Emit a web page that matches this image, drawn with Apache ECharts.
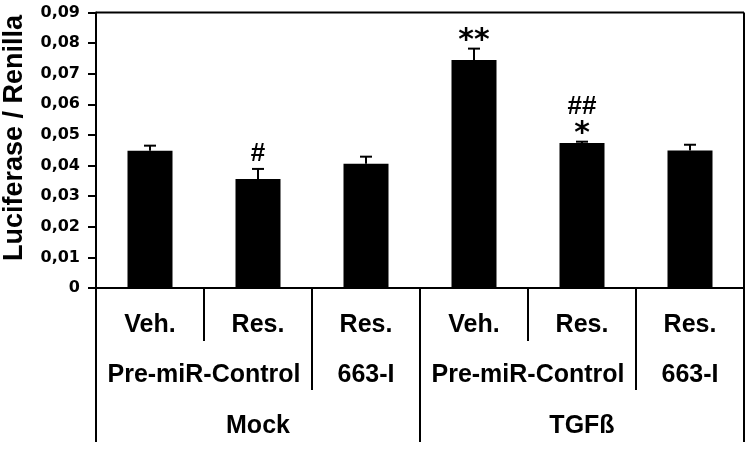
<!DOCTYPE html>
<html>
<head>
<meta charset="utf-8">
<script src="https://cdn.jsdelivr.net/npm/echarts@6/dist/echarts.min.js"></script>
<style>
  html, body { margin: 0; padding: 0; background: #fff; }
  #main { width: 750px; height: 449px; }
</style>
</head>
<body>
<div id="main"></div>
<script>
// 数据
var categories = ['Mock Veh.', 'Mock Res.', 'Mock 663-I Res.', 'TGFß Veh.', 'TGFß Res.', 'TGFß 663-I Res.']
var treatLabels = ['Veh.', 'Res.', 'Res.', 'Veh.', 'Res.', 'Res.']
var values = [0.0448, 0.0356, 0.0406, 0.0745, 0.0474, 0.0449]
var errors = [0.0017, 0.0033, 0.0023, 0.0037, 0.0004, 0.0019]
var starMarks = ['', '', '', '**', '*', '']
var hashMarks = ['', '#', '', '', '##', '']
var constructLabels = ['Pre-miR-Control', '663-I', 'Pre-miR-Control', '663-I']
var constructSpans = [[0, 1], [2, 2], [3, 4], [5, 5]]
var groupLabels = ['Mock', 'TGFß']
var groupSpans = [[0, 2], [3, 5]]
var yTitle = 'Luciferase / Renilla'
// 类别之间分隔线的层级 (1: Veh/Res, 2: 构建, 3: 分组)
var boundaryLevel = [1, 2, 3, 1, 2]

var labelFont = 'Liberation Sans, Arial, sans-serif'

var myChart = echarts.init(document.getElementById('main'))

function tickFmt (v) {
  if (v === 0) return '0'
  return v.toFixed(2).replace('.', ',')
}

// 误差线
function renderErr (params, api) {
  var i = params.dataIndex
  var base = api.coord([i, values[i]])
  var top = api.coord([i, values[i] + errors[i]])
  var half = 6
  return {
    type: 'group',
    children: [
      { type: 'line', shape: { x1: base[0], y1: base[1], x2: top[0], y2: top[1] }, style: { stroke: '#000', lineWidth: 2 } },
      { type: 'line', shape: { x1: top[0] - half, y1: top[1], x2: top[0] + half, y2: top[1] }, style: { stroke: '#000', lineWidth: 2 } }
    ]
  }
}

// 显著性标记
function renderMarks (params, api) {
  var i = params.dataIndex
  var top = api.coord([i, values[i] + errors[i]])
  var children = []
  var y = top[1]
  if (starMarks[i]) {
    children.push({
      type: 'text',
      style: { text: starMarks[i], x: top[0], y: y + 8, align: 'center', verticalAlign: 'bottom', font: 'bold 30px DejaVu Sans', fill: '#000' }
    })
    y -= 20
  }
  if (hashMarks[i]) {
    children.push({
      type: 'text',
      style: { text: hashMarks[i], x: top[0], y: y - 2, align: 'center', verticalAlign: 'bottom', font: 'bold 26px ' + labelFont, fill: '#000' }
    })
  }
  return { type: 'group', children: children }
}

var option = {
  animation: false,
  grid: { left: 96, top: 12.5, width: 648, height: 275.5, containLabel: false, outerBoundsMode: 'none' },
  xAxis: {
    type: 'category',
    data: categories,
    axisLine: { lineStyle: { color: '#000', width: 2 } },
    axisTick: { show: false },
    axisLabel: { show: false },
    splitLine: { show: false }
  },
  yAxis: {
    type: 'value',
    min: 0,
    max: 0.09,
    interval: 0.01,
    axisLine: { show: true, lineStyle: { color: '#000', width: 2 } },
    axisTick: { show: true, inside: false, length: 8, lineStyle: { color: '#000', width: 2 } },
    axisLabel: { formatter: tickFmt, margin: 16, fontFamily: 'DejaVu Sans', fontWeight: 'bold', fontSize: 16, color: '#000' },
    splitLine: { show: false }
  },
  series: [
    {
      type: 'bar',
      data: values,
      barWidth: 45,
      itemStyle: { color: '#000' }
    },
    {
      type: 'custom',
      renderItem: renderErr,
      data: values.map(function (v, i) { return [i, v] }),
      z: 3
    },
    {
      type: 'custom',
      renderItem: renderMarks,
      data: values.map(function (v, i) { return [i, v] }),
      z: 4
    }
  ]
}

myChart.setOption(option)

// 下方分层类别标签与分隔线
function buildGraphic () {
  var xs = categories.map(function (c, i) { return myChart.convertToPixel({ xAxisIndex: 0 }, i) })
  var band = xs[1] - xs[0]
  var y0 = myChart.convertToPixel({ yAxisIndex: 0 }, 0)
  var yTop = myChart.convertToPixel({ yAxisIndex: 0 }, 0.09)
  var left = xs[0] - band / 2
  var right = xs[xs.length - 1] + band / 2
  var depth = [y0 + 53, y0 + 102, y0 + 154]
  var rows = [y0 + 37, y0 + 87, y0 + 138]
  var els = []
  var ls = { stroke: '#000', lineWidth: 2 }

  // 外框
  els.push({ type: 'line', shape: { x1: left, y1: yTop, x2: right, y2: yTop }, style: ls })
  els.push({ type: 'line', shape: { x1: right, y1: yTop, x2: right, y2: depth[2] }, style: ls })
  els.push({ type: 'line', shape: { x1: left, y1: y0, x2: left, y2: depth[2] }, style: ls })
  boundaryLevel.forEach(function (lv, i) {
    var bx = (xs[i] + xs[i + 1]) / 2
    els.push({ type: 'line', shape: { x1: bx, y1: y0, x2: bx, y2: depth[lv - 1] }, style: ls })
  })

  // y 轴标题
  els.push({
    type: 'text',
    x: 15, y: 138, rotation: Math.PI / 2,
    style: { text: yTitle, x: 0, y: 0, align: 'center', verticalAlign: 'middle', font: 'bold 27px ' + labelFont, fill: '#000' }
  })

  var tf = 'bold 25px ' + labelFont
  treatLabels.forEach(function (t, i) {
    els.push({ type: 'text', style: { text: t, x: xs[i], y: rows[0], align: 'center', verticalAlign: 'middle', font: tf, fill: '#000' } })
  })
  constructLabels.forEach(function (t, k) {
    var s = constructSpans[k]
    els.push({ type: 'text', style: { text: t, x: (xs[s[0]] + xs[s[1]]) / 2, y: rows[1], align: 'center', verticalAlign: 'middle', font: tf, fill: '#000' } })
  })
  groupLabels.forEach(function (t, k) {
    var s = groupSpans[k]
    els.push({ type: 'text', style: { text: t, x: (xs[s[0]] + xs[s[1]]) / 2, y: rows[2], align: 'center', verticalAlign: 'middle', font: tf, fill: '#000' } })
  })
  myChart.setOption({ graphic: { elements: els } })
}

buildGraphic()
</script>
</body>
</html>
